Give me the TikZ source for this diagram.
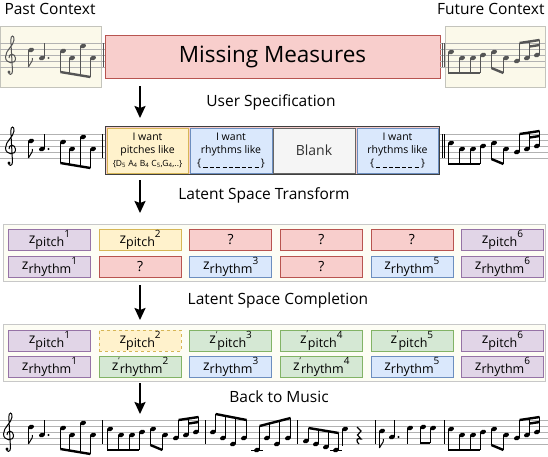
\documentclass[tikz,border=0pt]{standalone}
\usepackage{fontspec}
\setmainfont{Open Sans}
\usetikzlibrary{arrows.meta}
\usepackage{xcolor}
\definecolor{ctxfill}{HTML}{FBF9EA}
\definecolor{ctxdraw}{HTML}{C4C4BC}
\definecolor{latfill}{HTML}{FDFDF4}
\definecolor{latdraw}{HTML}{C8C8C8}
\definecolor{redfill}{HTML}{F8CECC}
\definecolor{reddraw}{HTML}{B85450}
\definecolor{yelfill}{HTML}{FFF2CC}
\definecolor{yeldraw}{HTML}{D6B656}
\definecolor{blufill}{HTML}{DAE8FC}
\definecolor{bludraw}{HTML}{6C8EBF}
\definecolor{purfill}{HTML}{E1D5E7}
\definecolor{purdraw}{HTML}{9673A6}
\definecolor{grnfill}{HTML}{D5E8D4}
\definecolor{grndraw}{HTML}{82B366}
\definecolor{inkgray}{HTML}{555555}

% cabeza de nota, pentagrama y clave
\newcommand{\nh}[2]{\fill[rotate around={20:(#1,#2)}] (#1,#2) ellipse (3.1 and 2.2);}
\newcommand{\staff}[2]{\foreach \k in {0,6,12,18,24} {\draw[staffline] (#1,\k) -- (#2,\k);}}
\newcommand{\gclef}[1]{%
  \begin{scope}[shift={(#1,0)}]
    \draw[line width=1pt] (3.5,29) .. controls (3.5,32) and (7.5,32.5) .. (7.5,28)
      -- (5.8,-3) .. controls (5.6,-8) and (9.5,-8.5) .. (9,-3)
      .. controls (8.6,3) and (0.5,7) .. (0.5,14)
      .. controls (0.5,21) and (11,22) .. (10.5,15)
      .. controls (10,10) and (3.5,10) .. (4,15);
    \fill (4,29) circle (1.6);
  \end{scope}}
% compas del contexto pasado
\newcommand{\pastbar}{%
  \nh{31}{7}
  \draw[stem] (28.4,7) -- (28.4,24);
  \draw[line width=1pt] (28.4,24) .. controls (29,20) and (33,20) .. (32.5,15);
  \nh{42}{15}
  \draw[stem] (44.6,15) -- (44.6,0);
  \fill (48.5,15) circle (1.1);
  \foreach \x/\y in {63/8, 72/15, 83/3, 93/15} {\nh{\x}{\y}}
  \foreach \x/\y/\b in {60.4/8/29, 69.4/15/30.5, 80.4/3/32.3, 90.4/15/34} {
    \draw[stem] (\x,\y) -- (\x,\b);
  }
  \draw[beam] (60.4,29) -- (90.4,34);}
% compas del contexto futuro
\newcommand{\futurebar}{%
  \foreach \x/\y in {451/9, 462/15, 473/15, 483/12, 494/9, 506/15, 517/18, 527/15, 537/12} {\nh{\x}{\y}}
  \foreach \x/\y/\b in {448.4/9/30, 459.4/15/30, 470.4/15/30, 480.4/12/30,
                        491.4/9/25, 503.4/15/30, 519.6/18/0, 529.6/15/-1.5, 539.6/12/-3} {
    \draw[stem] (\x,\y) -- (\x,\b);
  }
  \draw[beam] (448.4,30) -- (480.4,30);
  \draw[beam] (491.4,25) -- (503.4,30);
  \draw[beam] (519.6,0) -- (539.6,-3);
  \draw[beam] (529.6,3.5) -- (539.6,2);}
% vector latente
\newcommand{\zl}[3]{z\raisebox{0.9ex}{\fontsize{8}{8}\selectfont #1}\raisebox{-0.45ex}{\fontsize{12.5}{13}\selectfont #2}\raisebox{0.75ex}{\fontsize{10}{11}\selectfont #3}}
% huecos de ritmo
\newcommand{\gaps}[1]{\{\foreach \g in {1,...,#1} {\hspace{2.2pt}\rule[-1.5pt]{4.2pt}{0.6pt}}\hspace{2.2pt}\}}

\begin{document}
\begin{tikzpicture}[x=1pt, y=-1pt,
    staffline/.style={gray!60, line width=0.5pt},
    stem/.style={line width=0.8pt},
    beam/.style={line width=2.4pt},
    barline/.style={line width=0.7pt},
    stage/.style={font=\fontsize{15.5}{17}\selectfont},
    bigarrow/.style={line width=2pt, -{Stealth[length=12pt,width=11pt,inset=2pt]}},
    ctxbox/.style={fill=ctxfill, draw=ctxdraw, line width=0.8pt},
    latbox/.style={fill=latfill, draw=latdraw, line width=0.8pt},
    want/.style={draw, line width=0.8pt, minimum height=45, inner sep=1pt, align=center,
                 font=\fontsize{10.5}{13}\selectfont},
    cell/.style={draw, line width=0.8pt, minimum width=82, minimum height=21, inner sep=0pt,
                 font=\fontsize{14}{15}\selectfont},
    zpur/.style={fill=purfill, draw=purdraw},
    zyel/.style={fill=yelfill, draw=yeldraw},
    zyeld/.style={fill=yelfill, draw=yeldraw, dashed},
    zred/.style={fill=redfill, draw=reddraw},
    zblu/.style={fill=blufill, draw=bludraw},
    zgrn/.style={fill=grnfill, draw=grndraw}]

    \useasboundingbox (0,0) rectangle (548,456);

    % ==========================================================
    % contexto y compases faltantes
    % ==========================================================
    \node[stage, anchor=west] (pastlbl) at (1,9) {Past Context};
    \node[stage, anchor=east] (futurelbl) at (548,9) {Future Context};

    \node[ctxbox, minimum width=101, minimum height=61] (past) at (50.5,56.5) {};
    \node[ctxbox, minimum width=100, minimum height=61] (future) at (495,56.5) {};
    \node[fill=redfill, draw=reddraw, line width=0.8pt, minimum width=335, minimum height=43,
          font=\fontsize{22.5}{24}\selectfont] (missing) at (272.5,56.5) {Missing Measures};

    \begin{scope}[shift={(0,43)}, color=inkgray]
        \staff{0}{105}
        \gclef{5}
        \pastbar
        \draw[barline] (103,0) -- (103,24);
    \end{scope}
    \begin{scope}[shift={(0,43)}, color=inkgray]
        \staff{440}{545}
        \draw[barline] (442,0) -- (442,24);
        \draw[barline] (444.5,0) -- (444.5,24);
        \futurebar
    \end{scope}

    \coordinate (arr1s) at (140,86);
    \coordinate (arr1e) at (140,118);
    \draw[bigarrow] (arr1s) -- (arr1e);

    % ==========================================================
    % especificacion del usuario
    % ==========================================================
    \node[stage] (speclbl) at (271,102) {User Specification};

    \begin{scope}[shift={(0,134)}]
        \staff{0}{105}
        \gclef{5}
        \pastbar
        \draw[barline] (102.5,0) -- (102.5,24);
        \staff{439}{548}
        \draw[barline] (442,0) -- (442,24);
        \draw[barline] (444.5,0) -- (444.5,24);
        \futurebar
    \end{scope}

    \node[fill=redfill, draw=black!75, line width=0.8pt, minimum width=334, minimum height=48]
        (spec) at (272,150) {};
    \node[want, zyel, minimum width=81] (pitchwant) at (147.5,150.5)
        {I want\\pitches like\\{\fontsize{8.5}{9}\selectfont\{D\textsubscript{5} A\textsubscript{4} B\textsubscript{4} C\textsubscript{5},G\textsubscript{4},..\}}};
    \node[want, zblu, minimum width=82] (rhythmwant) at (231,150.5)
        {I want\\rhythms like\\\gaps{9}};
    \node[want, fill=gray!8, draw=black!60, minimum width=82, font=\fontsize{14}{16}\selectfont,
          text=black!80] (blank) at (314,150.5) {Blank};
    \node[want, zblu, minimum width=81] (rhythmwant2) at (397.5,150.5)
        {I want\\rhythms like\\\gaps{7}};

    \coordinate (arr2s) at (140,180);
    \coordinate (arr2e) at (140,213);
    \draw[bigarrow] (arr2s) -- (arr2e);

    % ==========================================================
    % transformacion al espacio latente
    % ==========================================================
    \node[stage] (translbl) at (264,195) {Latent Space Transform};
    \node[latbox, minimum width=542, minimum height=57] (lat1) at (274,252.5) {};

    \foreach \i/\s/\t in {1/zpur/{\zl{}{pitch}{1}}, 2/zyel/{\zl{}{pitch}{2}}, 3/zred/?,
                          4/zred/?, 5/zred/?, 6/zpur/{\zl{}{pitch}{6}}} {
        \node[cell, \s] (tp\i) at ({49.5+90.6*(\i-1)},240) {\t};
    }
    \foreach \i/\s/\t in {1/zpur/{\zl{}{rhythm}{1}}, 2/zred/?, 3/zblu/{\zl{}{rhythm}{3}},
                          4/zred/?, 5/zblu/{\zl{}{rhythm}{5}}, 6/zpur/{\zl{}{rhythm}{6}}} {
        \node[cell, \s] (tr\i) at ({49.5+90.6*(\i-1)},266.5) {\t};
    }

    \coordinate (arr3s) at (140,285);
    \coordinate (arr3e) at (140,320);
    \draw[bigarrow] (arr3s) -- (arr3e);

    % ==========================================================
    % completado del espacio latente
    % ==========================================================
    \node[stage] (complbl) at (278,300) {Latent Space Completion};
    \node[latbox, minimum width=542, minimum height=57] (lat2) at (274,352.5) {};

    \foreach \i/\s/\t in {1/zpur/{\zl{}{pitch}{1}}, 2/zyeld/{\zl{}{pitch}{2}}, 3/zgrn/{\zl{'}{pitch}{3}},
                          4/zgrn/{\zl{'}{pitch}{4}}, 5/zgrn/{\zl{'}{pitch}{5}}, 6/zpur/{\zl{}{pitch}{6}}} {
        \node[cell, \s] (cp\i) at ({49.5+90.6*(\i-1)},340.5) {\t};
    }
    \foreach \i/\s/\t in {1/zpur/{\zl{}{rhythm}{1}}, 2/zgrn/{\zl{'}{rhythm}{2}}, 3/zblu/{\zl{}{rhythm}{3}},
                          4/zgrn/{\zl{'}{rhythm}{4}}, 5/zblu/{\zl{}{rhythm}{5}}, 6/zpur/{\zl{}{rhythm}{6}}} {
        \node[cell, \s] (cr\i) at ({49.5+90.6*(\i-1)},367) {\t};
    }

    \coordinate (arr4s) at (140,383);
    \coordinate (arr4e) at (140,414);
    \draw[bigarrow] (arr4s) -- (arr4e);

    % ==========================================================
    % de vuelta a la musica
    % ==========================================================
    \node[stage] (musiclbl) at (279,397) {Back to Music};

    \begin{scope}[shift={(0,420)}]
        \staff{0}{548}
        \gclef{3}
        \pastbar
        \foreach \x in {102,205,297,375,444} {
            \draw[barline] (\x,0) -- (\x,24);
        }

        % compas 3
        \foreach \x/\y in {213/12, 223/18, 233/24, 244/18, 257/30, 267/18, 277/24, 288/18} {\nh{\x}{\y}}
        \foreach \x/\y/\b in {215.6/12/-6, 225.6/18/-4.1, 235.6/24/-2.1, 246.6/18/0,
                              259.6/30/6, 269.6/18/3.4, 279.6/24/0.8, 290.6/18/-2} {
            \draw[stem] (\x,\y) -- (\x,\b);
        }
        \draw[beam] (215.6,-6) -- (246.6,0);
        \draw[beam] (259.6,6) -- (290.6,-2);
        \draw[line width=0.6pt] (251,30) -- (263,30);

        % compas 4
        \foreach \x/\y in {306/21, 316/24, 326/27, 336/30, 345/9} {\nh{\x}{\y}}
        \foreach \x/\y/\b in {308.6/21/8, 318.6/24/9.7, 328.6/27/11.3, 338.6/30/13, 342.4/9/26} {
            \draw[stem] (\x,\y) -- (\x,\b);
        }
        \draw[beam] (308.6,8) -- (338.6,13);
        \draw[line width=0.6pt] (330,30) -- (342,30);
        \draw[line width=1.2pt] (357,7) -- (361,11) -- (357.5,15) -- (361,19)
            .. controls (356,17) and (356,22) .. (359,24);

        % compas 5
        \foreach \x/\y in {382/11, 392/17, 410/8, 423/7, 433/8} {\nh{\x}{\y}}
        \draw[stem] (379.4,11) -- (379.4,28);
        \draw[line width=1pt] (379.4,28) .. controls (380,24) and (384,24) .. (383.5,19);
        \draw[stem] (394.6,17) -- (394.6,0);
        \fill (398.5,17) circle (1.1);
        \foreach \x/\y/\b in {407.4/8/24, 420.4/7/23, 430.4/8/23} {
            \draw[stem] (\x,\y) -- (\x,\b);
        }
        \draw[beam] (420.4,23) -- (430.4,23);
    \end{scope}

    % compas 2 y compas 6
    \begin{scope}[shift={(-341,420)}]
        \futurebar
    \end{scope}
    \begin{scope}[shift={(0,420)}]
        \futurebar
    \end{scope}

\end{tikzpicture}
\end{document}
